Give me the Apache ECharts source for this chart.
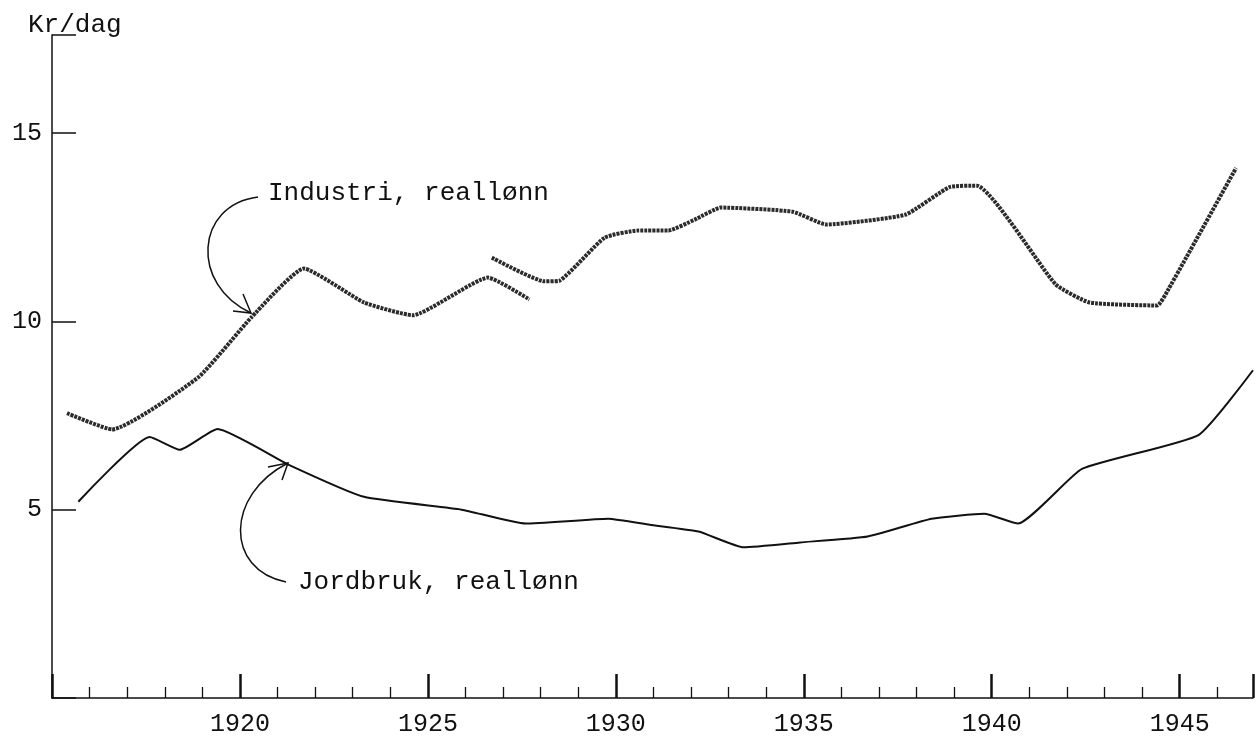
<!DOCTYPE html>
<html>
<head>
<meta charset="utf-8">
<script src="https://cdn.jsdelivr.net/npm/echarts@6/dist/echarts.min.js"></script>
<style>
  html, body { margin: 0; padding: 0; background: #fff; }
  #chart { width: 1256px; height: 747px; }
</style>
</head>
<body>
<div id="chart"></div>
<script>
// Industri, reallønn - first stretch (ends in the short branch after 1927)
const industriYearsA = [1915.4, 1916.6, 1918.9, 1920.3, 1921.7, 1923.3, 1924.6, 1926.6, 1927.7];
const industriValuesA = [7.56, 7.13, 8.52, 10.1, 11.4, 10.5, 10.16, 11.16, 10.58];

// Industri, reallønn - second stretch (new series from 1927)
const industriYearsB = [1926.7, 1928.1, 1928.5, 1929.7, 1930.6, 1931.4, 1932.1, 1932.8, 1934.7, 1935.6,
  1937.7, 1938.9, 1939.6, 1941.7, 1942.6, 1944.4, 1944.7, 1946.5];
const industriValuesB = [11.69, 11.06, 11.08, 12.22, 12.41, 12.41, 12.7, 13.02, 12.91, 12.57,
  12.83, 13.57, 13.6, 10.98, 10.5, 10.42, 10.85, 14.07];

// Jordbruk, reallønn
const jordbrukYears = [1915.7, 1917.6, 1918.4, 1919.4, 1921.3, 1923.3, 1925.9, 1927.6, 1929.8, 1930.9,
  1932.2, 1933.4, 1934.9, 1936.7, 1938.4, 1939.8, 1940.7, 1942.4, 1945.5, 1946.95];
const jordbrukValues = [5.21, 6.93, 6.59, 7.14, 6.19, 5.34, 5.0, 4.63, 4.76, 4.6,
  4.42, 4.0, 4.13, 4.29, 4.76, 4.89, 4.63, 6.08, 6.98, 8.7];

const yTicks = [5, 10, 15];
const xLabels = [1920, 1925, 1930, 1935, 1940, 1945];

const typeFont = '"Liberation Mono", "DejaVu Sans Mono", monospace';

const pairs = (xs, ys) => xs.map((x, i) => [x, ys[i]]);

const chart = echarts.init(document.getElementById('chart'));

const industriStyle = {
  color: '#2b2b2b',
  width: 4,
  type: [3, 1]
};

chart.setOption({
  backgroundColor: '#fff',
  animation: false,
  grid: { left: 52, right: 0, top: 35, bottom: 49 },
  xAxis: {
    type: 'value',
    min: 1915,
    max: 1946.95,
    interval: 5,
    axisLine: { lineStyle: { color: '#111', width: 1.5 } },
    axisTick: { inside: true, length: 24, lineStyle: { color: '#111', width: 2.5 } },
    minorTick: { show: true, splitNumber: 5, length: 11, lineStyle: { color: '#111', width: 1.3 } },
    splitLine: { show: false },
    axisLabel: {
      margin: 14,
      color: '#111',
      fontSize: 25,
      fontFamily: typeFont,
      formatter: v => (xLabels.includes(v) ? String(v) : '')
    }
  },
  yAxis: {
    type: 'value',
    min: 0,
    max: 17.6,
    interval: 5,
    axisLine: { show: true, lineStyle: { color: '#111', width: 1.5 } },
    axisTick: { show: true, inside: true, length: 24, lineStyle: { color: '#111', width: 1.5 } },
    splitLine: { show: false },
    axisLabel: {
      margin: 10,
      color: '#111',
      fontSize: 25,
      fontFamily: typeFont,
      formatter: v => (yTicks.includes(v) ? String(v) : '')
    }
  },
  series: [
    {
      name: 'Industri, reallønn',
      type: 'line',
      symbol: 'none',
      smooth: 0.15,
      data: pairs(industriYearsA, industriValuesA),
      lineStyle: industriStyle
    },
    {
      name: 'Industri, reallønn',
      type: 'line',
      symbol: 'none',
      smooth: 0.15,
      data: pairs(industriYearsB, industriValuesB),
      lineStyle: industriStyle
    },
    {
      name: 'Jordbruk, reallønn',
      type: 'line',
      symbol: 'none',
      smooth: 0.15,
      data: pairs(jordbrukYears, jordbrukValues),
      lineStyle: { color: '#111', width: 2 }
    }
  ],
  graphic: [
    {
      type: 'text', left: 28, top: 12,
      style: { text: 'Kr/dag', font: '26px ' + typeFont, fill: '#111' }
    },
    {
      type: 'text', left: 268, top: 180,
      style: { text: 'Industri, reallønn', font: '26px ' + typeFont, fill: '#111' }
    },
    {
      type: 'text', left: 298, top: 569,
      style: { text: 'Jordbruk, reallønn', font: '26px ' + typeFont, fill: '#111' }
    },
    // curved pointer to the industry line
    {
      type: 'bezierCurve',
      shape: { x1: 258, y1: 197, cpx1: 195, cpy1: 205, cpx2: 190, cpy2: 285, x2: 251, y2: 313 },
      style: { stroke: '#111', lineWidth: 1.5, fill: null }
    },
    {
      type: 'polyline',
      shape: { points: [[233, 311], [251, 313], [243, 294]] },
      style: { stroke: '#111', lineWidth: 1.5, fill: null }
    },
    // curved pointer to the agriculture line
    {
      type: 'bezierCurve',
      shape: { x1: 286, y1: 582, cpx1: 225, cpy1: 570, cpx2: 225, cpy2: 495, x2: 288, y2: 463 },
      style: { stroke: '#111', lineWidth: 1.5, fill: null }
    },
    {
      type: 'polyline',
      shape: { points: [[268, 467], [288, 463], [282, 480]] },
      style: { stroke: '#111', lineWidth: 1.5, fill: null }
    }
  ]
});

window.addEventListener('resize', () => chart.resize());
</script>
</body>
</html>
